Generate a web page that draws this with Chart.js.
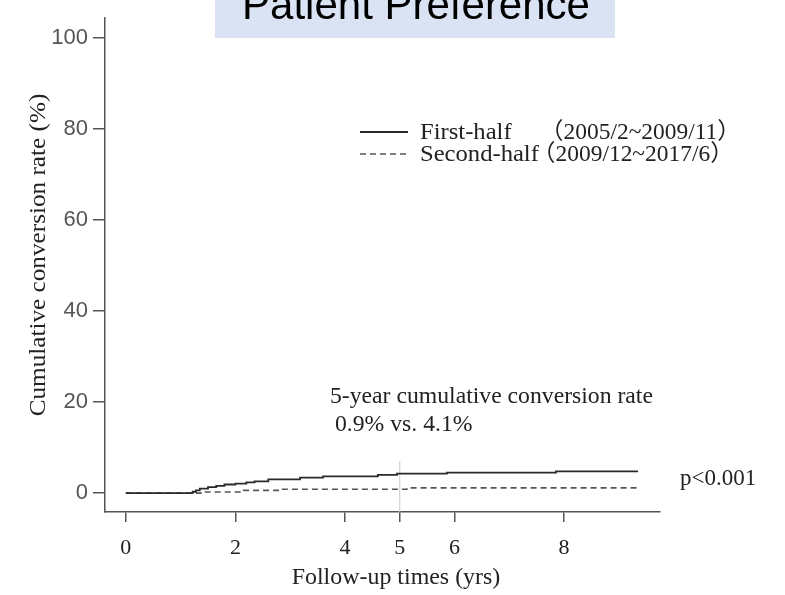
<!DOCTYPE html>
<html>
<head>
<meta charset="utf-8">
<script src="https://cdn.jsdelivr.net/npm/chart.js@4"></script>
<style>
  body { margin: 0; background: #fff; }
</style>
</head>
<body>
<canvas id="kmChart" width="785" height="595"></canvas>
<script>
// tick labels
const xTicks = [0, 2, 4, 5, 6, 8]
const yTicks = [0, 20, 40, 60, 80, 100]

// series (years, cumulative %)
const seriesLabels = ['First-half', 'Second-half']
const seriesPeriods = ['（2005/2~2009/11）', '（2009/12~2017/6）']
const firstHalfX = [0, 1.22, 1.28, 1.35, 1.5, 1.65, 1.8, 2.0, 2.2, 2.35, 2.6, 3.18, 3.6, 4.6, 4.95, 5.86, 7.85, 9.35]
const firstHalfY = [0, 0.3, 0.6, 1.0, 1.3, 1.6, 1.9, 2.1, 2.35, 2.6, 3.0, 3.4, 3.7, 4.0, 4.3, 4.5, 4.8, 4.8]
const secondHalfX = [0, 1.42, 2.15, 2.86, 5.13, 9.35]
const secondHalfY = [0, 0.25, 0.6, 0.86, 1.15, 1.15]

// 5-year marker
const markerX = [5, 5]
const markerY = [-4.15, 7]

const serif = '"Liberation Serif", "Times New Roman", "Noto Sans CJK SC", serif'
const sans = '"Liberation Sans", Arial, sans-serif'

const toPoints = (xs, ys) => xs.map((x, i) => ({ x: x, y: ys[i] }))

// the scanned figure's serif text runs a bit wide, so stretch it a little
const stretchText = (c, text, x, y, sx) => {
  c.save()
  c.translate(x, y)
  c.scale(sx, 1)
  c.fillText(text, 0, 0)
  c.restore()
}

// Function that draws the title box, legend and notes
const decorations = {
  id: 'decorations',
  beforeDraw: (chart) => {
    const c = chart.ctx
    c.save()
    c.fillStyle = '#fff'
    c.fillRect(0, 0, chart.width, chart.height)
    c.fillStyle = '#dae3f3'
    c.fillRect(215, 0, 400, 38)
    c.fillStyle = '#000'
    c.font = '42px ' + sans
    c.textAlign = 'center'
    c.textBaseline = 'alphabetic'
    c.fillText('Patient Preference', 416, 19)
    c.restore()
  },
  afterDraw: (chart) => {
    const c = chart.ctx
    c.save()
    c.fillStyle = '#222'
    c.font = '23px ' + serif
    c.textBaseline = 'alphabetic'
    c.textAlign = 'left'

    // legend
    const rows = [139, 161]
    const periodX = [540, 532]
    chart.data.datasets.slice(0, 2).forEach((ds, i) => {
      const y = rows[i] - 7
      c.strokeStyle = ds.borderColor
      c.lineWidth = ds.borderWidth
      c.setLineDash(ds.borderDash || [])
      c.beginPath()
      c.moveTo(360, y)
      c.lineTo(408, y)
      c.stroke()
      c.setLineDash([])
      stretchText(c, seriesLabels[i], 420, rows[i], 1.07)
      stretchText(c, seriesPeriods[i], periodX[i], rows[i], 1.02)
    })

    // notes
    stretchText(c, '5-year cumulative conversion rate', 330, 403, 1.03)
    stretchText(c, '0.9% vs. 4.1%', 335, 431, 1.03)
    stretchText(c, 'p<0.001', 680, 485, 1.0)

    // axis titles
    c.textAlign = 'center'
    c.textBaseline = 'middle'
    stretchText(c, 'Follow-up times (yrs)', 396, 578, 1.04)
    c.font = '24px ' + serif
    c.translate(39, 255)
    c.rotate(-Math.PI / 2)
    stretchText(c, 'Cumulative conversion rate (%)', 0, 0, 1.05)
    c.restore()
  }
}

const ctx = document.getElementById('kmChart').getContext('2d')
new Chart(ctx, {
  type: 'line',
  data: {
    datasets: [
      {
        label: seriesLabels[0],
        data: toPoints(firstHalfX, firstHalfY),
        borderColor: '#2a2a2a',
        borderWidth: 1.8,
        stepped: true,
        pointRadius: 0
      },
      {
        label: seriesLabels[1],
        data: toPoints(secondHalfX, secondHalfY),
        borderColor: '#555',
        borderWidth: 1.6,
        borderDash: [6, 4],
        stepped: true,
        pointRadius: 0
      },
      {
        label: '5-year',
        data: toPoints(markerX, markerY),
        borderColor: '#c8c8c8',
        borderWidth: 1,
        pointRadius: 0
      }
    ]
  },
  options: {
    responsive: false,
    animation: false,
    devicePixelRatio: 1,
    layout: { padding: { top: 7, right: 125, left: 0, bottom: 0 } },
    plugins: {
      legend: { display: false },
      tooltip: { enabled: false }
    },
    scales: {
      x: {
        type: 'linear',
        min: -0.38,
        max: 9.75,
        afterBuildTicks: (s) => { s.ticks = xTicks.map(v => ({ value: v })) },
        afterFit: (s) => { s.height = 83 },
        ticks: { font: { family: serif, size: 22 }, color: '#222', padding: 13, maxRotation: 0 },
        grid: { drawOnChartArea: false, tickLength: 10, color: '#555', lineWidth: 1.5 },
        border: { color: '#555', width: 1.5 }
      },
      y: {
        min: -4.15,
        max: 104.4,
        afterBuildTicks: (s) => { s.ticks = yTicks.map(v => ({ value: v })) },
        afterFit: (s) => { s.width = 105 },
        ticks: { font: { family: sans, size: 22 }, color: '#555', padding: 5 },
        grid: { drawOnChartArea: false, tickLength: 12, color: '#555', lineWidth: 1.5 },
        border: { color: '#555', width: 1.5 }
      }
    }
  },
  plugins: [decorations]
})
</script>
</body>
</html>
